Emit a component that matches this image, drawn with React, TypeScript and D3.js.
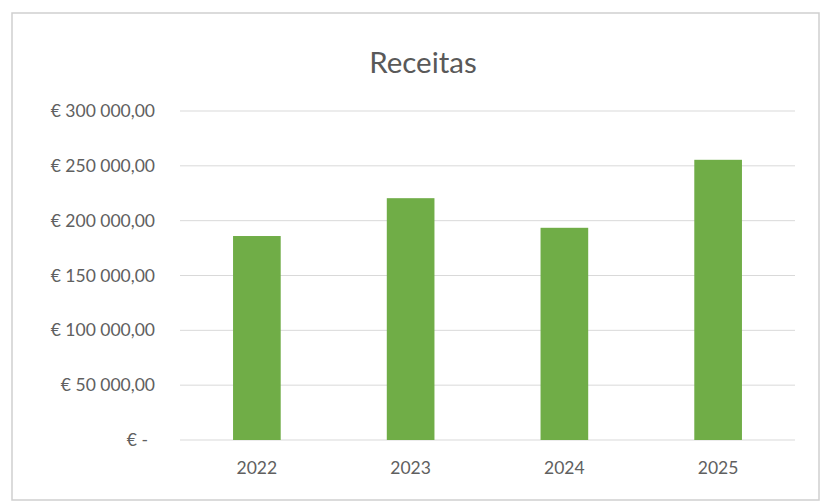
import React from "react";
import * as d3 from "d3";

const years = ["2022", "2023", "2024", "2025"];
const receitas = [186000, 220500, 193500, 255500];
const yTicks = [0, 50000, 100000, 150000, 200000, 250000, 300000];

const W = 821;
const H = 502;
const margin = { top: 111, right: 26, bottom: 62, left: 180 };

// "€ 300 000,00" style, zero shown as "€ -"
const fmtEuro = (v: number) => {
  if (v === 0) return "€ -";
  const s = d3.format(",.2f")(v).replace(/,/g, " ").replace(".", ",");
  return `€ ${s}`;
};

const App: React.FC = () => {
  const innerW = W - margin.left - margin.right;
  const innerH = H - margin.top - margin.bottom;

  const x = d3
    .scaleBand()
    .domain(years)
    .range([margin.left, margin.left + innerW])
    .paddingInner(0.69)
    .paddingOuter(0.345);

  const y = d3
    .scaleLinear()
    .domain([0, 300000])
    .range([margin.top + innerH, margin.top]);

  const font = "Lato, 'Open Sans', sans-serif";

  return (
    <svg
      width={W}
      height={H}
      style={{ position: "absolute", left: 0, top: 0, background: "#fff" }}
    >
      <rect x={12} y={13} width={807} height={487} fill="#fff" stroke="#cfcfcf" strokeWidth={1.5} />

      <text x={423} y={73} textAnchor="middle" fontFamily={font} fontSize={29.5} fill="#595959">
        Receitas
      </text>

      {/* grid */}
      {yTicks.map((t) => (
        <line
          key={t}
          x1={margin.left}
          x2={margin.left + innerW}
          y1={y(t)}
          y2={y(t)}
          stroke="#d9d9d9"
          strokeWidth={1}
        />
      ))}

      {/* y labels */}
      {yTicks.map((t) => (
        <text
          key={t}
          x={t === 0 ? 148 : 155}
          y={y(t)}
          dy="0.35em"
          textAnchor="end"
          fontFamily={font}
          fontSize={17.5}
          fill="#606060"
        >
          {fmtEuro(t)}
        </text>
      ))}

      {/* bars */}
      {receitas.map((v, i) => (
        <rect
          key={years[i]}
          x={x(years[i])!}
          y={y(v)}
          width={x.bandwidth()}
          height={y(0) - y(v)}
          fill="#70ad47"
        />
      ))}

      {/* x labels */}
      {years.map((yr) => (
        <text
          key={yr}
          x={x(yr)! + x.bandwidth() / 2}
          y={474}
          textAnchor="middle"
          fontFamily={font}
          fontSize={17.5}
          fill="#606060"
        >
          {yr}
        </text>
      ))}
    </svg>
  );
};

export default App;
